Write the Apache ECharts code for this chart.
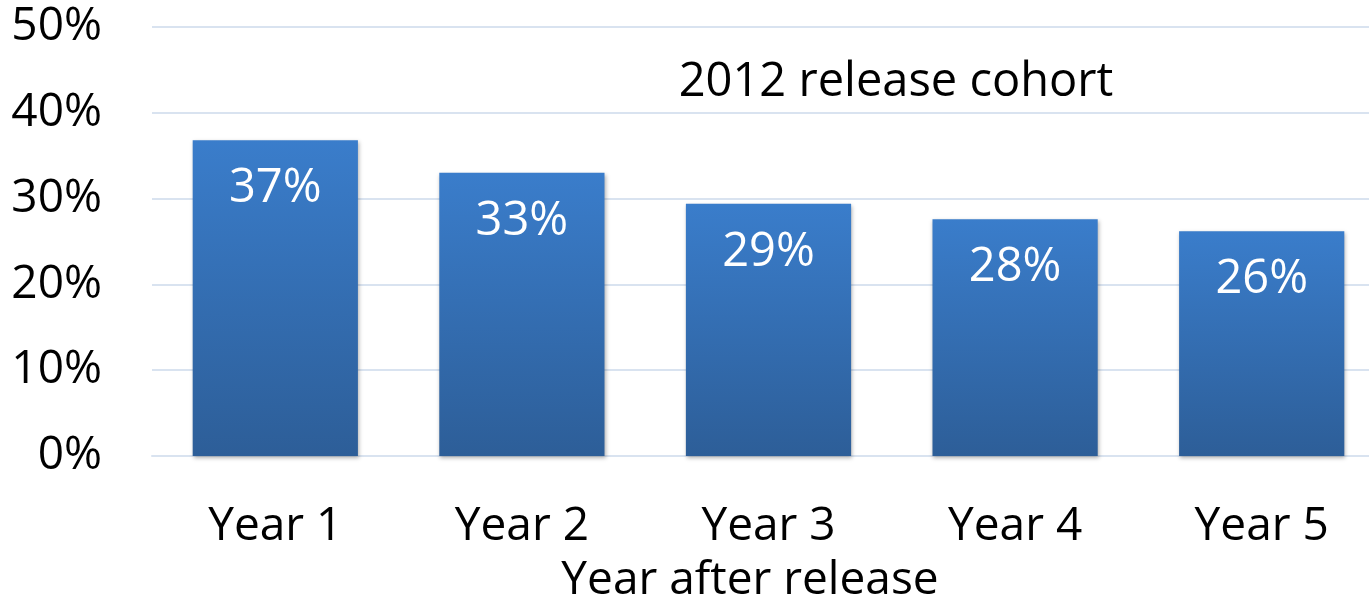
<!DOCTYPE html>
<html>
<head>
<meta charset="utf-8">
<script src="https://cdn.jsdelivr.net/npm/echarts@6/dist/echarts.min.js"></script>
<style>
  html, body { margin: 0; padding: 0; background: #fff; }
  #chart { width: 1369px; height: 602px; }
</style>
</head>
<body>
<div id="chart"></div>
<script>
// data
var categories = ['Year 1', 'Year 2', 'Year 3', 'Year 4', 'Year 5'];
var shares = [36.8, 33.0, 29.4, 27.6, 26.2];
var yTicks = [0, 10, 20, 30, 40, 50];

var fontName = '"Open Sans", sans-serif';
var chart = echarts.init(document.getElementById('chart'));

var option = {
	animation: false,
	title: [{
		text: '2012 release cohort',
		left: 891,
		top: 54,
		textAlign: 'center',
		textStyle: { fontFamily: fontName, fontSize: 47, fontWeight: 'normal', color: '#000' }
	}, {
		text: 'Year after release',
		left: 745,
		top: 553,
		textAlign: 'center',
		textStyle: { fontFamily: fontName, fontSize: 46, fontWeight: 'normal', color: '#000' }
	}],
	grid: { left: 152, top: 27, width: 1233, height: 429, outerBoundsMode: 'none' },
	xAxis: {
		type: 'category',
		data: categories,
		axisLine: { show: true, lineStyle: { color: '#d9e3f0', width: 2 } },
		axisTick: { show: false },
		axisLabel: {
			margin: 48,
			color: '#000',
			fontFamily: fontName,
			fontSize: 46
		}
	},
	yAxis: {
		type: 'value',
		min: yTicks[0],
		max: yTicks[yTicks.length - 1],
		interval: 10,
		axisLine: { show: false },
		axisTick: { show: false },
		splitLine: { lineStyle: { color: '#d9e3f0', width: 2 } },
		axisLabel: {
			margin: 50,
			color: '#000',
			fontFamily: fontName,
			fontSize: 46,
			formatter: '{value}%'
		}
	},
	series: [{
		type: 'bar',
		data: shares,
		barCategoryGap: '33%',
		itemStyle: {
			color: new echarts.graphic.LinearGradient(0, 0, 0, 1, [
				{ offset: 0, color: '#3a7dcb' },
				{ offset: 1, color: '#2d5e98' }
			]),
			shadowBlur: 4,
			shadowOffsetX: 1,
			shadowOffsetY: 2,
			shadowColor: 'rgba(0,0,0,0.3)'
		},
		label: {
			show: true,
			position: 'insideTop',
			distance: 25,
			color: '#fff',
			fontFamily: fontName,
			fontSize: 47,
			formatter: function (p) { return Math.round(p.value) + '%'; }
		}
	}]
};
chart.setOption(option);
</script>
</body>
</html>
